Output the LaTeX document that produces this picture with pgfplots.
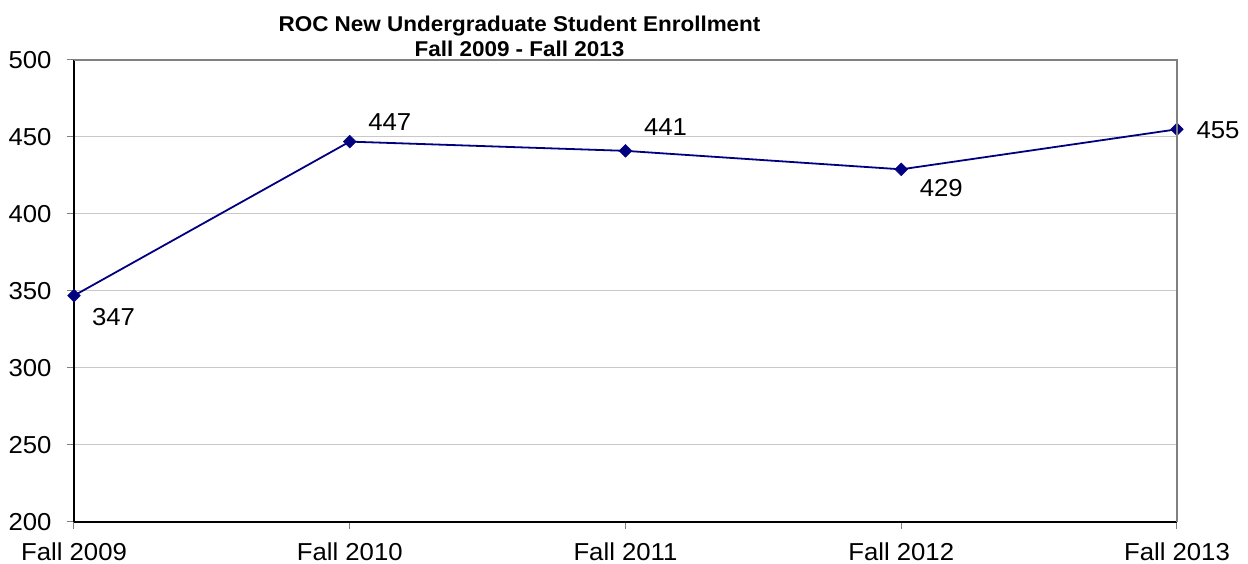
\documentclass[border=0pt]{standalone}
\usepackage{fontspec}
\setmainfont[FakeStretch=1.05]{Liberation Sans}
\usepackage{pgfplots}
\pgfplotsset{compat=1.18}
\definecolor{navyline}{RGB}{0,0,128}
\definecolor{gridgray}{RGB}{200,200,200}
\definecolor{bordergray}{RGB}{128,128,128}
\begin{document}
\begin{tikzpicture}[x=1pt,y=1pt]
\useasboundingbox (-74,-42) rectangle (1174,522);
\begin{axis}[
  at={(0,0)}, anchor=south west,
  scale only axis, width=1103pt, height=462pt,
  xmin=0, xmax=4, ymin=200, ymax=500,
  xtick={0,1,2,3,4},
  xticklabels={Fall 2009,Fall 2010,Fall 2011,Fall 2012,Fall 2013},
  ytick={200,250,300,350,400,450,500},
  axis x line*=bottom, axis y line*=left,
  axis line style={black, line width=1.2pt, -},
  ymajorgrids, grid style={gridgray, line width=1pt},
  tick align=outside, major tick length=7pt,
  tick style={bordergray, line width=1pt},
  /pgf/number format/assume math mode=true,
  ticklabel style={font=\fontsize{24.5}{28}\selectfont},
  yticklabel style={xshift=-12pt},
  xticklabel style={anchor=base, yshift=-32pt},
  clip=false,
  after end axis/.code={
    \draw[bordergray, line width=1.2pt] (rel axis cs:0,1) -- (rel axis cs:1,1) -- (rel axis cs:1,0);
  },
]
\addplot[navyline, line width=1.8pt, mark=square*, mark size=4.5pt,
  mark options={rotate=45, solid, fill=navyline, draw=navyline, line width=0.5pt}]
  coordinates {(0,347) (1,447) (2,441) (3,429) (4,455)};
\begin{scope}[every node/.style={font=\fontsize{24.5}{28}\selectfont, anchor=center, inner sep=0pt}]
\node[xshift=39.5pt, yshift=-21pt] at (axis cs:0,347) {347};
\node[xshift=40pt, yshift=20pt] at (axis cs:1,447) {447};
\node[xshift=40pt, yshift=24pt] at (axis cs:2,441) {441};
\node[xshift=40pt, yshift=-19pt] at (axis cs:3,429) {429};
\node[xshift=41pt, yshift=-1pt] at (axis cs:4,455) {455};
\end{scope}
\end{axis}
\node[anchor=base, font=\fontsize{21.4}{24}\selectfont\bfseries] at (445.5,490) {ROC New Undergraduate Student Enrollment};
\node[anchor=base, font=\fontsize{21.4}{24}\selectfont\bfseries] at (445.5,465) {Fall 2009 - Fall 2013};
\end{tikzpicture}
\end{document}
